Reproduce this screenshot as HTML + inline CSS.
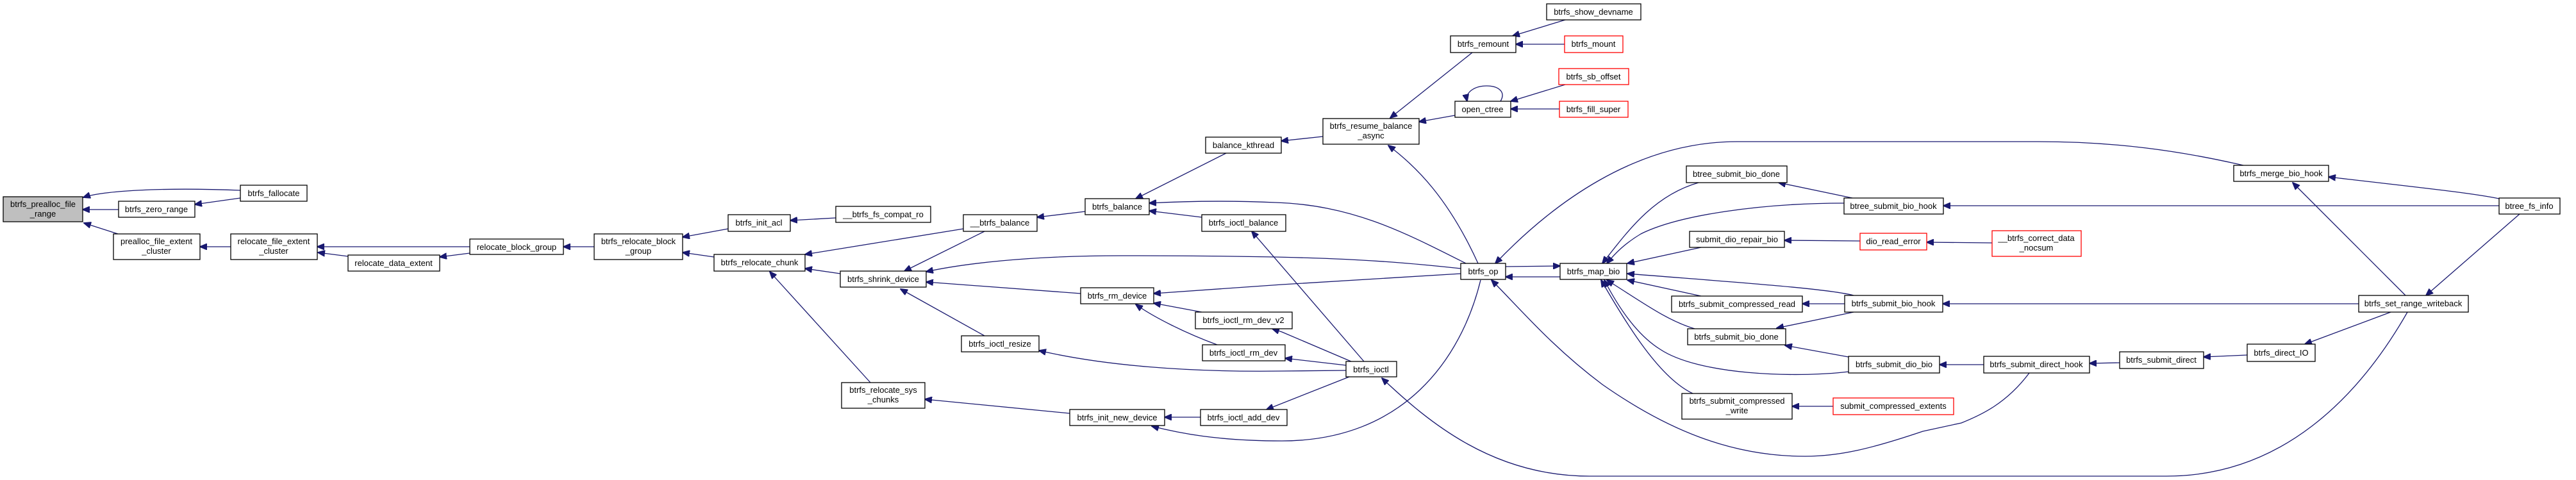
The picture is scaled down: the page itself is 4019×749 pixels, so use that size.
<!DOCTYPE html>
<html><head><meta charset="utf-8"><style>
html,body{margin:0;padding:0;background:#fff;}
svg{display:block;}
text{font-family:"Liberation Sans",Arial,sans-serif;font-size:13px;fill:#000;text-anchor:middle;}
.n{fill:#fff;stroke:#000;stroke-width:1.3;}
.r{fill:#fff;stroke:#ff0000;stroke-width:1.3;}
.g{fill:#bfbfbf;stroke:#000;stroke-width:1.3;}
path,line{stroke:#191970;stroke-width:1.3;fill:none;}
</style></head><body>
<svg width="4019" height="749" viewBox="0 0 4019 749" xmlns="http://www.w3.org/2000/svg">
<defs><marker id="a" markerUnits="userSpaceOnUse" markerWidth="12" markerHeight="10" refX="11" refY="5" orient="auto"><path d="M0,0 L12,5 L0,10 z" style="fill:#191970;stroke:#191970;stroke-width:1"/></marker></defs>
<g marker-end="url(#a)">
<path d="M375,297 C250,292 160,298 130,308"/>
<path d="M375,309 L304,319"/>
<path d="M185,327 L129,327"/>
<path d="M184,365 L131,348"/>
<path d="M360,385 L312,385"/>
<path d="M733,385 L495,385"/>
<path d="M543,400 L496,394"/>
<path d="M733,395 L686,401"/>
<path d="M927,385 L879,385"/>
<path d="M1136,357 L1065,370"/>
<path d="M1114,401 L1065,394"/>
<path d="M1304,340 L1233,344"/>
<path d="M1503,357 L1256,397"/>
<path d="M1311,427 L1256,419"/>
<path d="M1358,597 L1201,424"/>
<path d="M1693,330 L1618,339"/>
<path d="M1536,361 L1411,423"/>
<path d="M1913,239 L1772,310"/>
<path d="M1875,339 L1793,329"/>
<path d="M2287,411 C2190,362 2110,320 1990,316 C1900,312 1830,315 1793,317"/>
<path d="M2279,419 C2150,405 2050,399 1750,399 C1600,399 1500,412 1445,424"/>
<path d="M1686,458 L1445,440"/>
<path d="M1536,524 L1405,451"/>
<path d="M2279,427 L2000,444 L1800,458"/>
<path d="M1875,487 L1800,473"/>
<path d="M1899,538 C1850,520 1800,495 1772,475"/>
<path d="M2108,564 L2000,518 L1985,513"/>
<path d="M2100,570 L2005,559"/>
<path d="M2100,578 L2000,579 C1850,581 1720,570 1621,547"/>
<path d="M2128,564 L1953,361"/>
<path d="M2105,588 L1976,639"/>
<path d="M1873,651 L1817,651"/>
<path d="M1669,645 L1443,623"/>
<path d="M2310,437 C2280,560 2190,688 2000,688 C1900,688 1840,676 1797,665"/>
<path d="M2306,411 C2260,310 2210,260 2166,227"/>
<path d="M2064,213 L1999,220"/>
<path d="M2297,82 L2169,184"/>
<path d="M2270,180 L2214,190"/>
<path d="M2442,31 L2360,56"/>
<path d="M2441,69 L2365,69"/>
<path d="M2442,132 L2357,158"/>
<path d="M2433,170 L2357,170"/>
<path d="M2341,158 C2360,126 2282,126 2289,158"/>
<path d="M2349,416 L2434,415"/>
<path d="M2434,432 L2349,432"/>
<path d="M3500,258 C3400,235 3300,221 3180,221 L2710,221 C2550,221 2420,320 2333,411"/>
<path d="M2650,285 C2580,305 2540,360 2500,411"/>
<path d="M2877,317 C2750,317 2620,335 2560,365 C2535,380 2520,395 2507,411"/>
<path d="M2890,309 L2775,285"/>
<path d="M3899,321 L3032,321"/>
<path d="M3899,310 C3850,300 3750,290 3633,276"/>
<path d="M3753,461 L3577,285"/>
<path d="M3931,334 L3785,461"/>
<path d="M2654,386 L2539,411"/>
<path d="M2902,376 L2784,375"/>
<path d="M3108,379 L3006,378"/>
<path d="M2892,461 C2850,450 2700,440 2539,427"/>
<path d="M2654,462 L2539,437"/>
<path d="M2878,474 L2812,474"/>
<path d="M2644,513 C2600,500 2560,470 2507,437"/>
<path d="M2892,487 L2772,512"/>
<path d="M3680,474 L3031,474"/>
<path d="M2884,557 L2785,539"/>
<path d="M2884,580 C2800,590 2650,585 2590,545 C2550,520 2520,470 2503,437"/>
<path d="M3095,569 L3026,569"/>
<path d="M3307,566 L3260,567"/>
<path d="M3506,554 L3438,557"/>
<path d="M3730,487 L3596,537"/>
<path d="M3166,582 C3130,630 3090,648 3060,660 L3000,673 C2920,700 2870,712 2816,712 C2700,712 2600,670 2500,600 C2420,540 2370,480 2327,437"/>
<path d="M3756,487 C3680,620 3560,743 3380,743 L2480,743 C2330,743 2230,660 2156,590"/>
<path d="M2641,614 C2590,590 2540,510 2498,437"/>
<path d="M2860,634 L2796,634"/>
</g>

<rect class="g" x="5" y="307" width="124" height="39"/><text x="67" y="323">btrfs_prealloc_file</text><text x="67" y="338">_range</text>
<rect class="n" x="375" y="289" width="104" height="25"/><text x="427" y="306">btrfs_fallocate</text>
<rect class="n" x="185" y="314" width="119" height="25"/><text x="244" y="331">btrfs_zero_range</text>
<rect class="n" x="177" y="365" width="135" height="40"/><text x="244" y="381">prealloc_file_extent</text><text x="244" y="396">_cluster</text>
<rect class="n" x="360" y="365" width="135" height="40"/><text x="427" y="381">relocate_file_extent</text><text x="427" y="396">_cluster</text>
<rect class="n" x="543" y="398" width="143" height="25"/><text x="614" y="415">relocate_data_extent</text>
<rect class="n" x="733" y="373" width="146" height="24"/><text x="806" y="390">relocate_block_group</text>
<rect class="n" x="927" y="365" width="138" height="40"/><text x="996" y="381">btrfs_relocate_block</text><text x="996" y="396">_group</text>
<rect class="n" x="1136" y="335" width="97" height="26"/><text x="1184" y="352">btrfs_init_acl</text>
<rect class="n" x="1304" y="322" width="148" height="25"/><text x="1378" y="339">__btrfs_fs_compat_ro</text>
<rect class="n" x="1114" y="397" width="142" height="26"/><text x="1185" y="414">btrfs_relocate_chunk</text>
<rect class="n" x="1503" y="335" width="115" height="26"/><text x="1560" y="352">__btrfs_balance</text>
<rect class="n" x="1693" y="310" width="100" height="25"/><text x="1743" y="327">btrfs_balance</text>
<rect class="n" x="1881" y="214" width="118" height="25"/><text x="1940" y="231">balance_kthread</text>
<rect class="n" x="1875" y="335" width="131" height="26"/><text x="1940" y="352">btrfs_ioctl_balance</text>
<rect class="n" x="1311" y="423" width="134" height="25"/><text x="1378" y="440">btrfs_shrink_device</text>
<rect class="n" x="1686" y="449" width="114" height="25"/><text x="1743" y="466">btrfs_rm_device</text>
<rect class="n" x="1865" y="487" width="151" height="26"/><text x="1940" y="504">btrfs_ioctl_rm_dev_v2</text>
<rect class="n" x="1876" y="538" width="129" height="25"/><text x="1940" y="555">btrfs_ioctl_rm_dev</text>
<rect class="n" x="1500" y="524" width="121" height="25"/><text x="1560" y="541">btrfs_ioctl_resize</text>
<rect class="n" x="1313" y="597" width="130" height="40"/><text x="1378" y="613">btrfs_relocate_sys</text><text x="1378" y="628">_chunks</text>
<rect class="n" x="1669" y="639" width="148" height="25"/><text x="1743" y="656">btrfs_init_new_device</text>
<rect class="n" x="1873" y="639" width="135" height="25"/><text x="1940" y="656">btrfs_ioctl_add_dev</text>
<rect class="n" x="2413" y="6" width="147" height="25"/><text x="2486" y="23">btrfs_show_devname</text>
<rect class="n" x="2263" y="56" width="102" height="26"/><text x="2314" y="73">btrfs_remount</text>
<rect class="r" x="2441" y="56" width="91" height="26"/><text x="2486" y="73">btrfs_mount</text>
<rect class="r" x="2432" y="107" width="109" height="25"/><text x="2486" y="124">btrfs_sb_offset</text>
<rect class="n" x="2270" y="158" width="87" height="25"/><text x="2313" y="175">open_ctree</text>
<rect class="r" x="2433" y="158" width="107" height="25"/><text x="2486" y="175">btrfs_fill_super</text>
<rect class="n" x="2064" y="185" width="150" height="40"/><text x="2139" y="201">btrfs_resume_balance</text><text x="2139" y="216">_async</text>
<rect class="n" x="2279" y="411" width="70" height="25"/><text x="2314" y="428">btrfs_op</text>
<rect class="n" x="2434" y="411" width="104" height="25"/><text x="2486" y="428">btrfs_map_bio</text>
<rect class="n" x="2631" y="259" width="157" height="26"/><text x="2709" y="276">btree_submit_bio_done</text>
<rect class="n" x="2636" y="361" width="148" height="25"/><text x="2710" y="378">submit_dio_repair_bio</text>
<rect class="r" x="2902" y="364" width="104" height="26"/><text x="2954" y="381">dio_read_error</text>
<rect class="n" x="2608" y="462" width="204" height="25"/><text x="2710" y="479">btrfs_submit_compressed_read</text>
<rect class="n" x="2633" y="513" width="153" height="25"/><text x="2709" y="530">btrfs_submit_bio_done</text>
<rect class="n" x="2624" y="614" width="172" height="40"/><text x="2710" y="630">btrfs_submit_compressed</text><text x="2710" y="645">_write</text>
<rect class="n" x="2100" y="564" width="79" height="24"/><text x="2139" y="581">btrfs_ioctl</text>
<rect class="n" x="2877" y="309" width="155" height="25"/><text x="2954" y="326">btree_submit_bio_hook</text>
<rect class="n" x="2878" y="461" width="153" height="26"/><text x="2954" y="478">btrfs_submit_bio_hook</text>
<rect class="n" x="2884" y="556" width="142" height="26"/><text x="2955" y="573">btrfs_submit_dio_bio</text>
<rect class="r" x="2860" y="621" width="188" height="26"/><text x="2954" y="638">submit_compressed_extents</text>
<rect class="r" x="3108" y="360" width="139" height="40"/><text x="3177" y="376">__btrfs_correct_data</text><text x="3177" y="391">_nocsum</text>
<rect class="n" x="3485" y="258" width="148" height="25"/><text x="3559" y="275">btrfs_merge_bio_hook</text>
<rect class="n" x="3899" y="309" width="95" height="25"/><text x="3946" y="326">btree_fs_info</text>
<rect class="n" x="3680" y="461" width="171" height="26"/><text x="3765" y="478">btrfs_set_range_writeback</text>
<rect class="n" x="3506" y="537" width="106" height="27"/><text x="3559" y="555">btrfs_direct_IO</text>
<rect class="n" x="3307" y="549" width="131" height="26"/><text x="3372" y="566">btrfs_submit_direct</text>
<rect class="n" x="3095" y="556" width="165" height="26"/><text x="3177" y="573">btrfs_submit_direct_hook</text>
</svg>
</body></html>
